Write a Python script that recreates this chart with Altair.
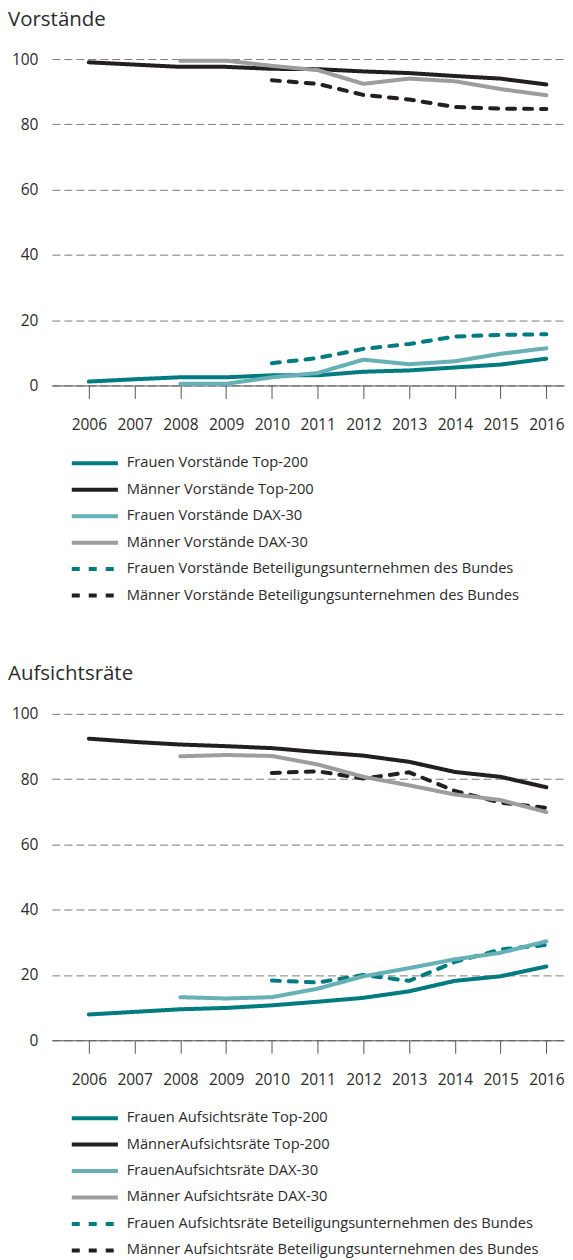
import altair as alt
import pandas as pd

years = list(range(2006, 2017))

vor_labels = [
    "Frauen Vorstände Top-200",
    "Männer Vorstände Top-200",
    "Frauen Vorstände DAX-30",
    "Männer Vorstände DAX-30",
    "Frauen Vorstände Beteiligungsunternehmen des Bundes",
    "Männer Vorstände Beteiligungsunternehmen des Bundes",
]
auf_labels = [
    "Frauen Aufsichtsräte Top-200",
    "MännerAufsichtsräte Top-200",
    "FrauenAufsichtsräte DAX-30",
    "Männer Aufsichtsräte DAX-30",
    "Frauen Aufsichtsräte Beteiligungsunternehmen des Bundes",
    "Männer Aufsichtsräte Beteiligungsunternehmen des Bundes",
]

# Vorstände (percent)
vor_f_top200 = [1.2, 1.9, 2.5, 2.5, 3.1, 3.1, 4.2, 4.6, 5.5, 6.4, 8.2]
vor_m_top200 = [99.0, 98.3, 97.6, 97.6, 97.0, 96.9, 96.2, 95.7, 94.8, 94.0, 92.2]
vor_f_dax = [None, None, 0.5, 0.5, 2.5, 3.8, 7.9, 6.5, 7.4, 9.7, 11.4]
vor_m_dax = [None, None, 99.5, 99.5, 97.9, 96.6, 92.4, 94.0, 93.2, 90.8, 88.9]
vor_f_bund = [None, None, None, None, 6.8, 8.4, 11.2, 12.7, 15.0, 15.5, 15.7]
vor_m_bund = [None, None, None, None, 93.5, 92.4, 89.0, 87.6, 85.3, 84.8, 84.7]

# Aufsichtsräte (percent)
auf_f_top200 = [7.9, 8.7, 9.5, 9.9, 10.7, 11.8, 13.0, 15.0, 18.2, 19.6, 22.6]
auf_m_top200 = [92.4, 91.4, 90.6, 90.1, 89.5, 88.3, 87.2, 85.3, 82.2, 80.7, 77.5]
auf_f_dax = [None, None, 13.2, 12.8, 13.2, 15.8, 19.6, 22.1, 24.8, 26.8, 30.3]
auf_m_dax = [None, None, 87.0, 87.4, 87.1, 84.5, 80.7, 78.1, 75.3, 73.6, 69.9]
auf_f_bund = [None, None, None, None, 18.3, 17.7, 20.0, 18.2, 24.0, 27.8, 29.2]
auf_m_bund = [None, None, None, None, 81.9, 82.4, 80.2, 82.1, 76.4, 72.8, 71.2]

colors = ["#007b80", "#231f20", "#66b0b6", "#9d9d9d", "#007b80", "#231f20"]
dashes = [[1, 0], [1, 0], [1, 0], [1, 0], [8, 9], [8, 9]]
draw_order = [4, 5, 0, 1, 2, 3]

FONT = "Open Sans"
TXT = "#2b2b2b"


def panel(title, labels, series):
    rows = []
    for idx in draw_order:
        for yr, v in zip(years, series[idx]):
            if v is not None:
                rows.append({"Jahr": yr, "Wert": v, "Reihe": labels[idx]})
    df = pd.DataFrame(rows)
    leg = dict(
        orient="none", legendX=34, legendY=396, title=None, direction="vertical",
        symbolType="M-3.3,0H3.3", symbolSize=196, symbolStrokeWidth=4,
        labelFontSize=14.7, labelFont=FONT, labelColor=TXT, labelOffset=23,
        rowPadding=9.5, labelLimit=600,
    )
    return alt.Chart(
        df,
        title=alt.Title(title, anchor="start", frame="bounds", fontSize=20.5, font=FONT,
                        fontWeight="normal", color=TXT, offset=22),
    ).mark_line(strokeWidth=4, strokeCap="round", strokeJoin="round").encode(
        x=alt.X("Jahr:Q",
                scale=alt.Scale(domain=[2005.193, 2016.386], nice=False, zero=False),
                axis=alt.Axis(values=years, format="d", title=None, grid=False,
                              tickSize=13, tickColor="#555555", domainColor="#555555",
                              labelPadding=19, labelFontSize=15.5, labelFont=FONT,
                              labelColor=TXT, labelFlush=False)),
        y=alt.Y("Wert:Q", scale=alt.Scale(domain=[0, 100], nice=False),
                axis=alt.Axis(values=[0, 20, 40, 60, 80, 100], title=None, domain=False,
                              ticks=False, grid=True, gridDash=[8, 4], gridColor="#7a7a7a",
                              labelPadding=14, minExtent=44, maxExtent=44,
                              labelFontSize=15.5, labelFont=FONT, labelColor=TXT)),
        color=alt.Color("Reihe:N", scale=alt.Scale(domain=labels, range=colors),
                        legend=alt.Legend(**leg)),
        strokeDash=alt.StrokeDash("Reihe:N", scale=alt.Scale(domain=labels, range=dashes),
                                  legend=alt.Legend(**leg)),
    ).properties(width=513, height=327)


top = panel("Vorstände", vor_labels,
            [vor_f_top200, vor_m_top200, vor_f_dax, vor_m_dax, vor_f_bund, vor_m_bund])
bottom = panel("Aufsichtsräte", auf_labels,
               [auf_f_top200, auf_m_top200, auf_f_dax, auf_m_dax, auf_f_bund, auf_m_bund])

chart = alt.vconcat(top, bottom, spacing=60).resolve_scale(
    color="independent", strokeDash="independent"
).properties(
    padding={"left": 0, "top": 0, "right": 0, "bottom": 0}
).configure_view(stroke=None)

chart.save("out.html", embed_options={"renderer": "svg", "actions": False})
